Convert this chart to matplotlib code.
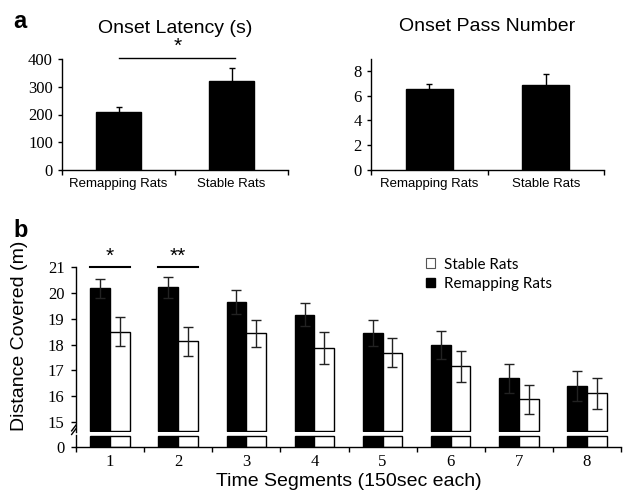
import matplotlib
matplotlib.use("Agg")
import matplotlib.pyplot as plt
from matplotlib.patches import Patch
import numpy as np

# panel a data
groups_a = ["Remapping Rats", "Stable Rats"]
latency = [210, 320]
latency_err = [18, 48]
passes = [6.5, 6.85]
passes_err = [0.4, 0.9]

# panel b data
segments = [1, 2, 3, 4, 5, 6, 7, 8]
remap_dist = [20.18, 20.22, 19.65, 19.15, 18.44, 17.99, 16.69, 16.40]
remap_err = [0.36, 0.40, 0.45, 0.45, 0.50, 0.53, 0.55, 0.58]
stable_dist = [18.50, 18.13, 18.43, 17.86, 17.69, 17.17, 15.88, 16.11]
stable_err = [0.55, 0.56, 0.53, 0.61, 0.56, 0.60, 0.57, 0.60]
sig_segments = [1, 2]
sig_marks = ["*", "**"]

SANS = "Liberation Sans"
SERIF = "Liberation Serif"
# tick numbers are serif, everything else is named explicitly
plt.rcParams["font.family"] = SERIF

W, H = 623, 493
fig = plt.figure(figsize=(W / 100, H / 100), dpi=100)


def px_axes(l, t, r, b):
    return fig.add_axes([l / W, (H - b) / H, (r - l) / W, (b - t) / H])


def style(ax, tick_len=3, pad=3.5):
    for s in ["top", "right"]:
        ax.spines[s].set_visible(False)
    for s in ["left", "bottom"]:
        ax.spines[s].set_linewidth(1.0)
    ax.tick_params(axis="y", direction="out", length=tick_len, width=1,
                   pad=pad, labelsize=12)


def cat_xaxis(ax, n, labels, family, size, pad):
    x = np.arange(n)
    ax.set_xlim(-0.5, n - 0.5)
    ax.set_xticks(x)
    ax.set_xticklabels(labels, fontfamily=family, fontsize=size)
    ax.set_xticks(np.arange(n + 1) - 0.5, minor=True)
    ax.tick_params(axis="x", which="major", length=0, pad=pad)
    ax.tick_params(axis="x", which="minor", length=3.5, width=1, direction="out")


# ---- panel a, left
ax1 = px_axes(62, 59, 288, 170)
x = np.arange(len(groups_a))
ax1.bar(x, latency, width=0.4, color="black", edgecolor="black")
ax1.errorbar(x, latency, yerr=latency_err, fmt="none", ecolor="black",
             elinewidth=1, capsize=2.5, capthick=1)
ax1.set_ylim(0, 400)
ax1.set_yticks([0, 100, 200, 300, 400])
style(ax1)
cat_xaxis(ax1, 2, groups_a, SANS, 9.5, 6)
ax1.plot([0, 1.03], [403, 403], color="black", lw=1, clip_on=False)
ax1.text(0.52, 412, "*", ha="center", va="bottom", fontsize=15,
         fontfamily=SANS)

# ---- panel a, right
ax2 = px_axes(371, 58.5, 604, 169.5)
ax2.bar(x, passes, width=0.4, color="black", edgecolor="black")
ax2.errorbar(x, passes, yerr=passes_err, fmt="none", ecolor="black",
             elinewidth=1, capsize=2.5, capthick=1)
ax2.set_ylim(0, 9)
ax2.set_yticks([0, 2, 4, 6, 8])
style(ax2)
cat_xaxis(ax2, 2, groups_a, SANS, 9.5, 6)

fig.text(175 / W, (H - 33) / H, "Onset Latency (s)", ha="center",
         va="baseline", fontsize=14, fontfamily=SANS)
fig.text(487 / W, (H - 31) / H, "Onset Pass Number", ha="center",
         va="baseline", fontsize=14, fontfamily=SANS)
fig.text(13 / W, (H - 28) / H, "a", fontsize=17, fontweight="bold",
         fontfamily=SANS, va="baseline")
fig.text(13 / W, (H - 237) / H, "b", fontsize=17, fontweight="bold",
         fontfamily=SANS, va="baseline")

# ---- panel b, broken axis
base = 14.67
bw = 0.29
xs = np.array(segments) - 1

axt = px_axes(76, 267, 621, 432)
axt.bar(xs - bw / 2, np.array(remap_dist) - base, bottom=base, width=bw,
        color="black", edgecolor="black", lw=1)
axt.bar(xs + bw / 2, np.array(stable_dist) - base, bottom=base, width=bw,
        color="white", edgecolor="black", lw=1)
axt.errorbar(xs - bw / 2, remap_dist, yerr=remap_err, fmt="none",
             ecolor="#222222", elinewidth=1, capsize=3.5, capthick=1)
axt.errorbar(xs + bw / 2, stable_dist, yerr=stable_err, fmt="none",
             ecolor="#222222", elinewidth=1, capsize=3.5, capthick=1)
axt.set_ylim(14.62, 21)
axt.set_yticks([15, 16, 17, 18, 19, 20, 21])
axt.set_xlim(-0.5, len(segments) - 0.5)
style(axt, tick_len=3.8, pad=4.5)
axt.spines["bottom"].set_visible(False)
axt.tick_params(axis="x", which="both", bottom=False, labelbottom=False)

for seg, mark in zip(sig_segments, sig_marks):
    c = seg - 1
    axt.plot([c - bw, c + bw], [21.0, 21.0], color="black", lw=1.5,
             clip_on=False)
    axt.text(c, 21.05, mark, ha="center", va="bottom", fontsize=15,
             fontfamily=SANS)

# break marks
for dy in (0.0, 0.022):
    axt.plot([-0.008, 0.0], [-0.015 + dy, 0.02 + dy], transform=axt.transAxes,
             color="black", lw=1, clip_on=False)

axb = px_axes(76, 434.5, 621, 447)
stub = np.full(len(segments), 0.85)
axb.bar(xs - bw / 2, stub, width=bw, color="black", edgecolor="black", lw=1)
axb.bar(xs + bw / 2, stub, width=bw, color="white", edgecolor="black", lw=1)
axb.set_ylim(0, 1)
axb.set_yticks([0])
style(axb, tick_len=3.8, pad=4.5)
cat_xaxis(axb, len(segments), [str(s) for s in segments], SERIF, 12, 5)

handles = [Patch(facecolor="white", edgecolor="#555555", lw=0.8),
           Patch(facecolor="black", edgecolor="black")]
fig.legend(handles, ["Stable Rats", "Remapping Rats"], loc="upper left",
           bbox_to_anchor=(418 / W, (H - 250) / H), frameon=False,
           handlelength=0.6, handleheight=0.6, handletextpad=0.6,
           labelspacing=0.35, borderpad=0, prop={"family": "Lato", "size": 11})

fig.text(20 / W, (H - 336) / H, "Distance Covered (m)", rotation=90,
         ha="center", va="center", fontsize=14, fontfamily=SANS)
fig.text(349 / W, (H - 486) / H, "Time Segments (150sec each)", ha="center",
         va="baseline", fontsize=14, fontfamily=SANS)

fig.savefig("out.png", dpi=100)
